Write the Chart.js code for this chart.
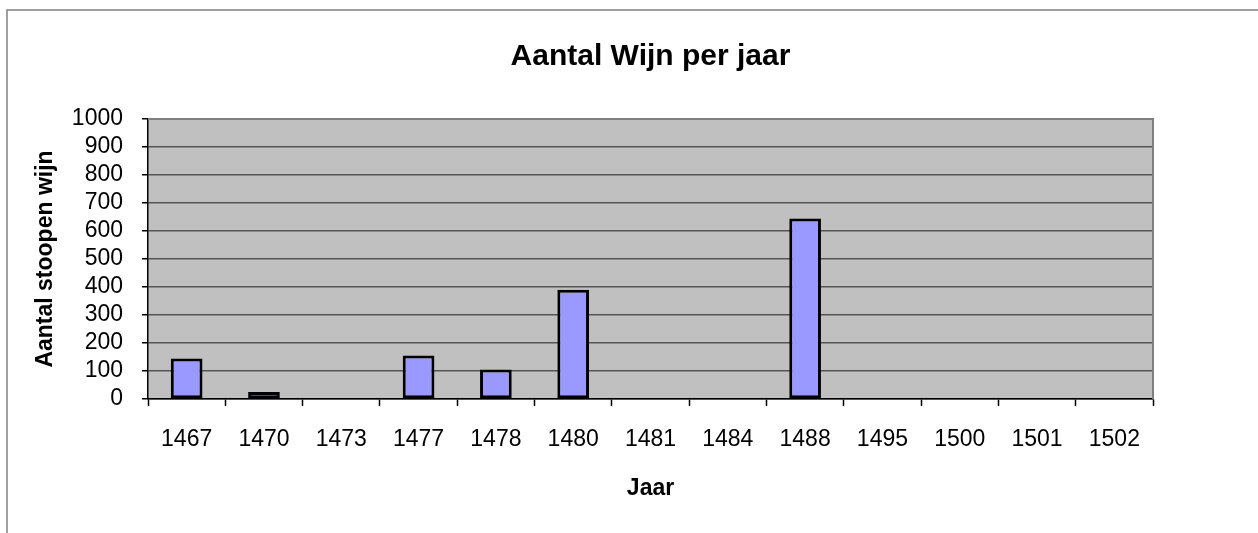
<!DOCTYPE html>
<html>
<head>
    <title>Aantal Wijn per jaar</title>
    <script src="https://cdn.jsdelivr.net/npm/chart.js"></script>
    <style>
        body { margin: 0; background: #fff; }
        #wrap { width: 1258px; height: 533px; }
    </style>
</head>
<body>
    <div id="wrap"><canvas id="wijnChart"></canvas></div>

    <script>
    const jaren = ['1467', '1470', '1473', '1477', '1478', '1480', '1481', '1484', '1488', '1495', '1500', '1501', '1502'];
    const stoopen = [145, 25, null, 155, 105, 390, null, null, 645, null, null, null, null];
    const yTicks = [0, 100, 200, 300, 400, 500, 600, 700, 800, 900, 1000];

    const lettertype = "'Liberation Sans', Arial, sans-serif";

    // grijze achtergrond van het plotvlak + kader
    const plotAchtergrond = {
        id: 'plotAchtergrond',
        beforeDraw(chart) {
            const { ctx, chartArea: a } = chart;
            ctx.save();
            ctx.fillStyle = '#c0c0c0';
            ctx.fillRect(a.left, a.top, a.right - a.left, a.bottom - a.top);
            ctx.strokeStyle = '#808080';
            ctx.lineWidth = 1.5;
            ctx.strokeRect(7, 10, chart.width + 20, chart.height + 20);
            ctx.restore();
        },
        beforeDatasetsDraw(chart) {
            const { ctx, chartArea: a } = chart;
            ctx.save();
            ctx.strokeStyle = '#808080';
            ctx.lineWidth = 2;
            ctx.beginPath();
            ctx.moveTo(a.left, a.top);
            ctx.lineTo(a.right, a.top);
            ctx.lineTo(a.right, a.bottom);
            ctx.stroke();
            ctx.restore();
        }
    };

    new Chart(document.getElementById('wijnChart'), {
        type: 'bar',
        data: {
            labels: jaren,
            datasets: [{
                label: 'Aantal stoopen wijn',
                data: stoopen,
                backgroundColor: '#9999ff',
                borderColor: '#000000',
                borderWidth: 3,
                borderSkipped: false,
                barPercentage: 0.41,
                categoryPercentage: 1
            }]
        },
        options: {
            responsive: true,
            maintainAspectRatio: false,
            animation: false,
            layout: { padding: { left: 0, right: 105, top: 0, bottom: 0 } },
            plugins: {
                legend: { display: false },
                tooltip: { enabled: false },
                title: {
                    display: true,
                    text: 'Aantal Wijn per jaar',
                    fullSize: false,
                    color: '#000',
                    font: { family: lettertype, size: 30, weight: 'bold' },
                    padding: { top: 39, bottom: 44 }
                }
            },
            scales: {
                x: {
                    grid: {
                        drawOnChartArea: false,
                        drawTicks: true,
                        tickLength: 7,
                        tickColor: '#000',
                        tickWidth: 1.5
                    },
                    border: { color: '#000', width: 1.5 },
                    ticks: {
                        color: '#000',
                        padding: 20,
                        maxRotation: 0,
                        autoSkip: false,
                        font: { family: lettertype, size: 23 }
                    },
                    title: {
                        display: true,
                        text: 'Jaar',
                        color: '#000',
                        font: { family: lettertype, size: 23, weight: 'bold' },
                        padding: { top: 0, bottom: 31 }
                    },
                    afterFit(scale) { scale.height = 134; }
                },
                y: {
                    min: 0,
                    max: 1000,
                    afterBuildTicks(scale) { scale.ticks = yTicks.map(v => ({ value: v })); },
                    grid: {
                        color: '#555555',
                        lineWidth: 1.5,
                        tickLength: 6,
                        tickColor: '#000',
                        tickWidth: 1.5
                    },
                    border: { color: '#000', width: 1.5 },
                    ticks: {
                        color: '#000',
                        padding: 19,
                        autoSkip: false,
                        callback: v => String(v),
                        font: { family: lettertype, size: 23 }
                    },
                    title: {
                        display: true,
                        text: 'Aantal stoopen wijn',
                        color: '#000',
                        font: { family: lettertype, size: 23, weight: 'bold' },
                        padding: { top: 32, bottom: 0 }
                    },
                    afterFit(scale) { scale.width = 148; }
                }
            }
        },
        plugins: [plotAchtergrond]
    });
    </script>
</body>
</html>
